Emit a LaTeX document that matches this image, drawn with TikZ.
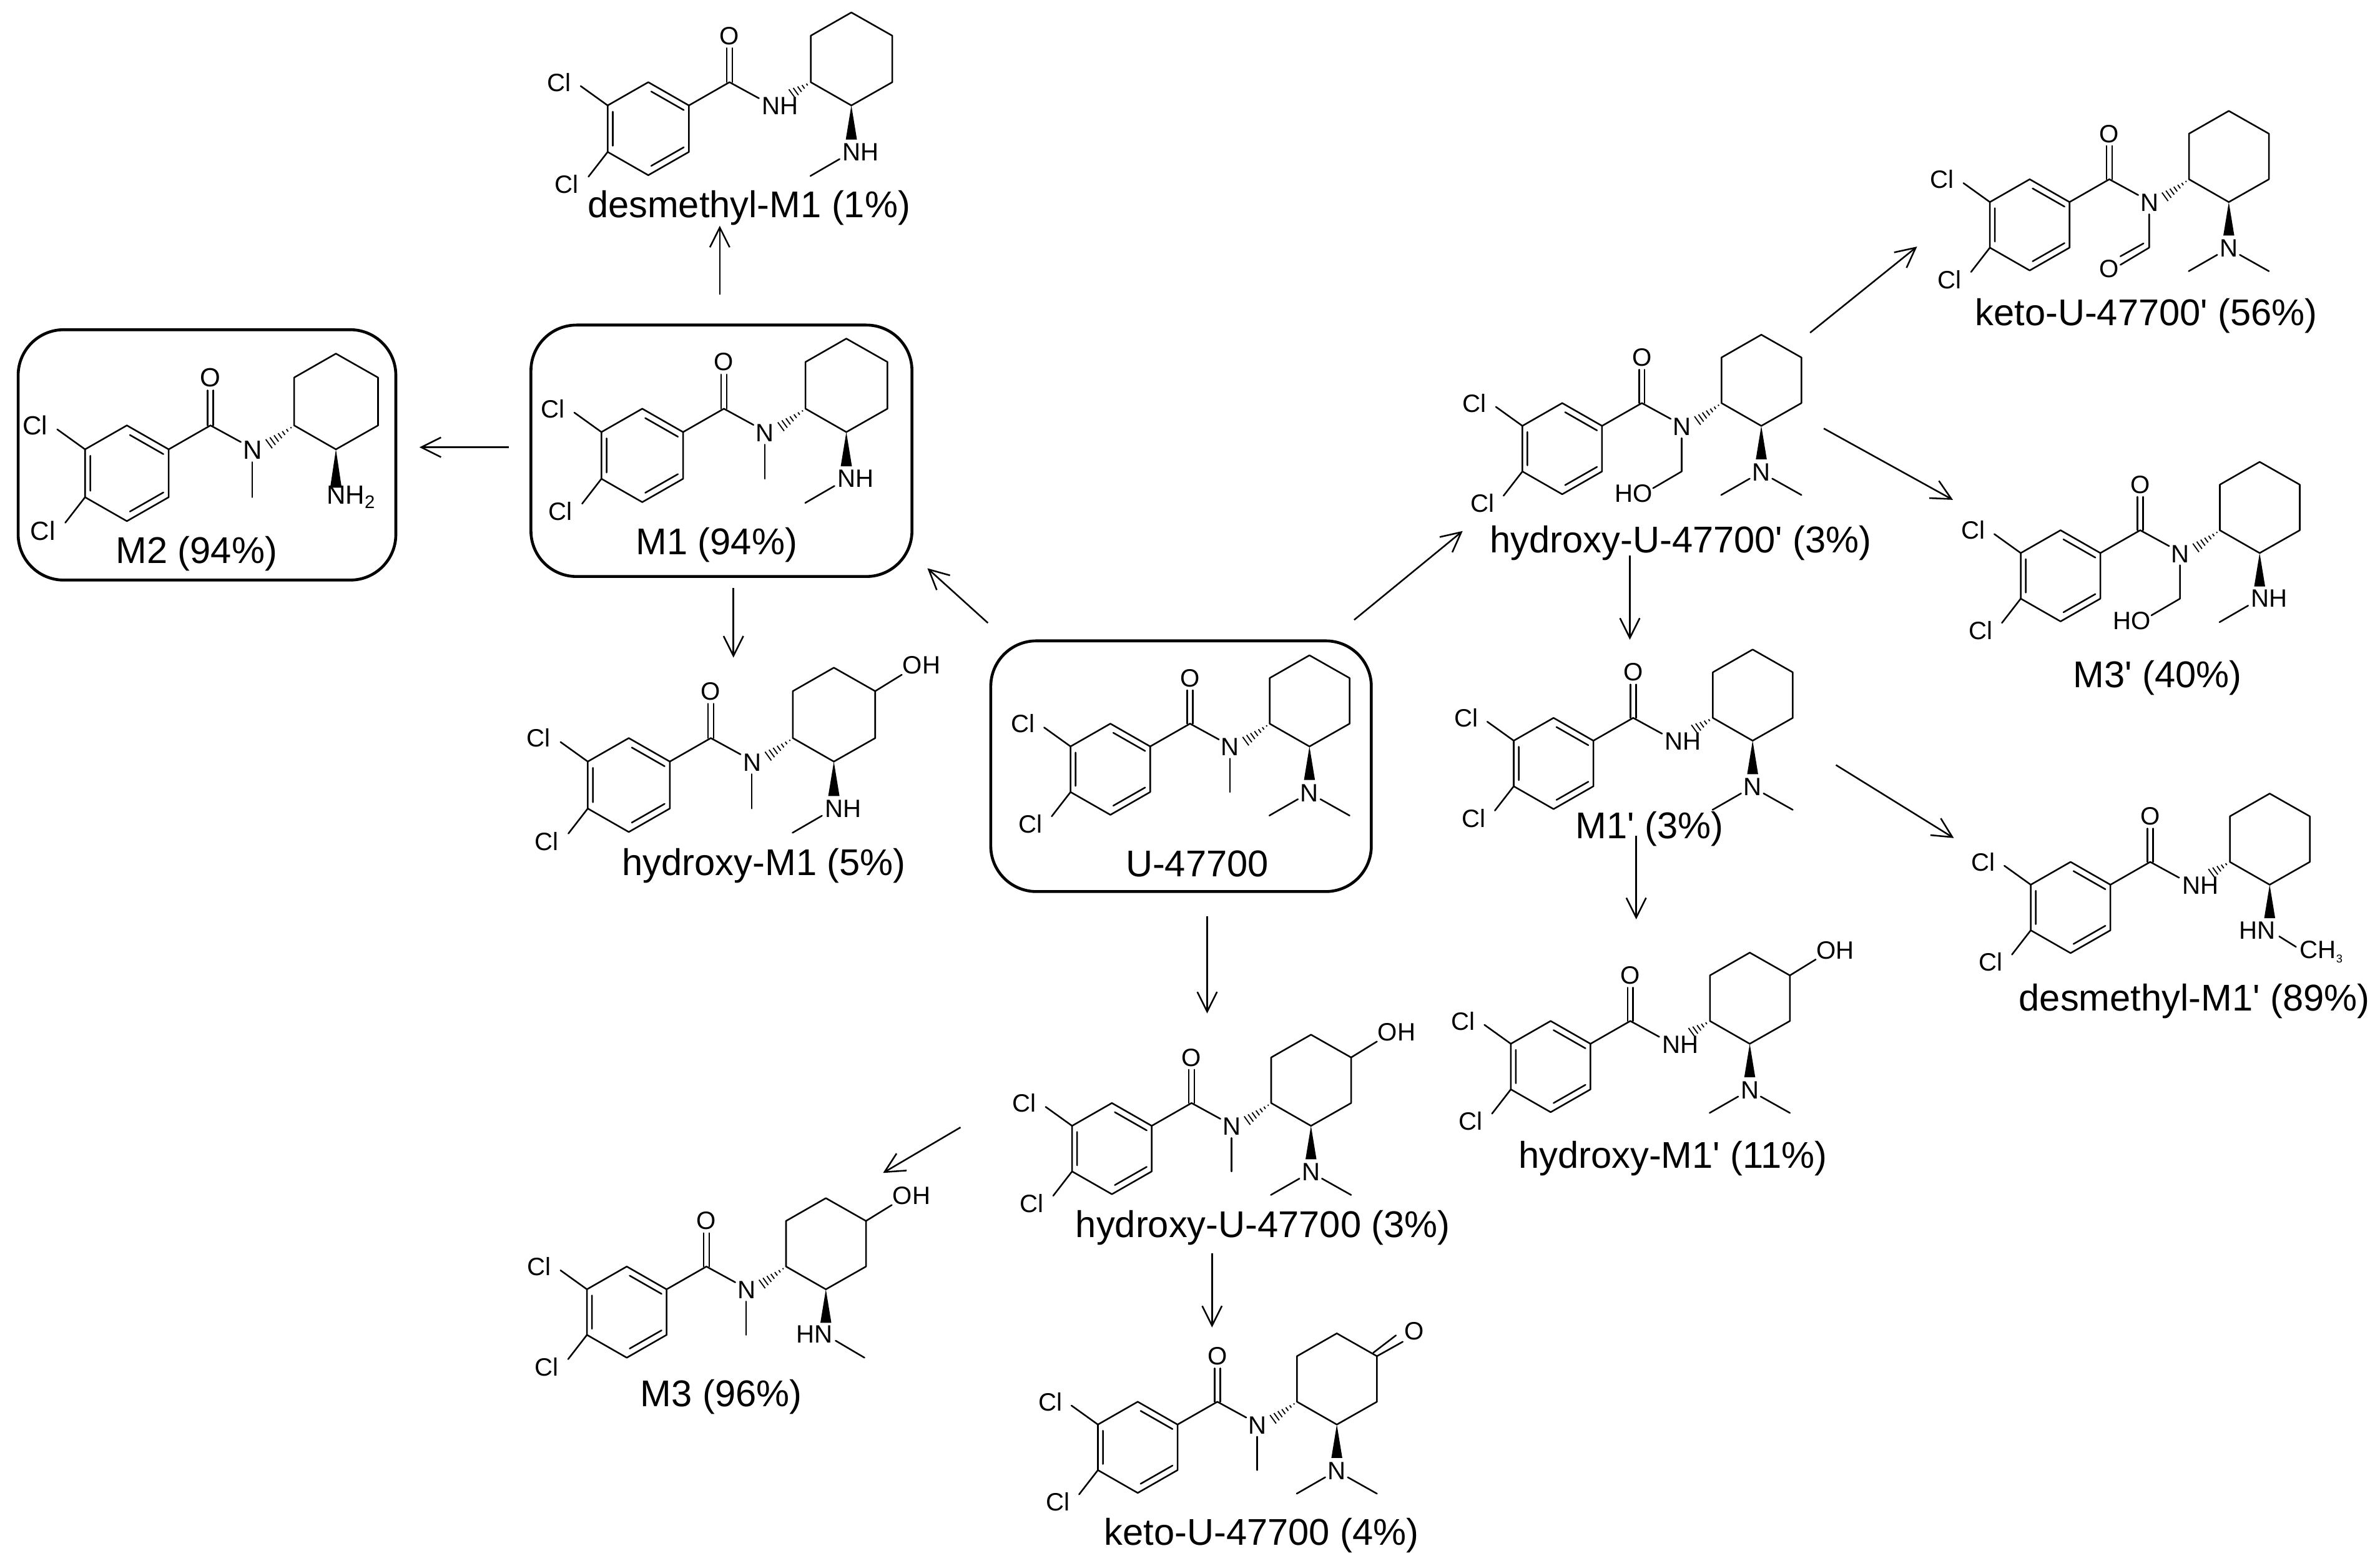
\documentclass[tikz,border=0pt]{standalone}
\usepackage{fontspec}
\newfontfamily\arialish{Liberation Sans}
\usetikzlibrary{arrows.meta}
\newcommand\asz{16.5}
\newcommand\atomfont{\arialish\fontsize{\asz}{18}\selectfont}
\newcommand\labfont{\arialish\fontsize{24.5}{28}\selectfont}
\tikzset{
  bond/.style={line width=1.05pt,line cap=round,line join=round},
  hashbond/.style={line width=0.75pt},
  atom/.style={inner sep=0pt,outer sep=0pt,font=\atomfont},
  molbox/.style={draw,line width=1.9pt,rounded corners=30pt,fill=none},
  lab/.style={inner sep=0pt,font=\labfont},
  rxn/.style={line width=1.05pt,-{Straight Barb[length=13pt,width=13pt,line width=1.05pt]}},
}
% core of every molecule: origin = amide carbon
\newcommand\core[3][1]{%
  \begin{scope}[shift={(#3)},scale=#1]
  \draw[bond] (-26.2,15)--(-26.2,45)--(-52.4,60)--(-78.6,45)--(-78.6,15)--(-52.4,0)--cycle;
  \draw[bond] (-26.2,15)--(0,0);
  \draw[bond] (-29.5,18)--(-50.5,6) (-29.5,42)--(-50.5,54) (-75.3,19)--(-75.3,41);
  \draw[bond] (-1.8,0)--(-1.8,-22) (1.8,0)--(1.8,-22);
  \draw[bond] (0,0)--(19,10.4);
  \draw[bond] (52.4,0)--(78.6,15)--(105,0)--(105,-30)--(78.6,-45)--(52.4,-30)--cycle;
  \draw[bond] (-78.6,15)--(-96,2.5) (-78.6,45)--(-91,61);
  \node[atom] (#2-cla) at (-110,0) {Cl};
  \node[atom] (#2-clb) at (-105,66) {Cl};
  \node[atom] (#2-o) at (0,-30) {O};
  }
\newcommand\hashb[1]{%
  \foreach \t in {.12,.26,.4,.54,.68,.82,.96}
   \draw[hashbond] ({52.4-#1*16.4*\t+2.1*\t},{#1*12*\t+2.9*\t})--({52.4-#1*16.4*\t-2.1*\t},{#1*12*\t-2.9*\t});}
\newcommand\hashs{%
  \foreach \t in {.2,.4,.6,.8,1}
   \draw[hashbond] ({52.4-12*\t+2.1*\t},{7.5*\t+2.9*\t})--({52.4-12*\t-2.1*\t},{7.5*\t-2.9*\t});}
\newcommand\wdg[1]{\fill (78.6,15)--(75,#1)--(82.2,#1)--cycle;}
\newcommand\nme[1]{\node[atom] (#1-n) at (26.4,15.5) {N}; \hashb{1} \draw[bond] (26.2,23)--(26.2,45);}
\newcommand\nhl[1]{\node[atom,anchor=west] (#1-n) at (21,15.5) {NH}; \hashs}
\newcommand\nch[1]{\node[atom] (#1-n) at (26.4,15.5) {N}; \hashb{1}
  \draw[bond] (26.2,23)--(26.2,45)--(7.4,56); \node[atom] (#1-ho) at (-5.5,59.5) {HO};}
\newcommand\ncho[1]{\node[atom] (#1-n) at (26.4,15.5) {N}; \hashb{1}
  \draw[bond] (26.2,23)--(26.2,45)--(7.3,56.3) (22.5,42.2)--(7.3,50.7); \node[atom] (#1-fo) at (0,59) {O};}
\newcommand\nmetwo[1]{\wdg{37}\node[atom] (#1-nb) at (78.6,45.5) {N};
  \draw[bond] (71,49.7)--(52.2,60.5) (85.8,49.7)--(105,60.5);}
\newcommand\nhmeleft[1]{\wdg{37}\node[atom,anchor=west] (#1-nb) at (73,45) {NH};
  \draw[bond] (71,49.6)--(52.2,60.5);}
\newcommand\nhmeright[1]{\wdg{37}\node[atom,anchor=east] (#1-nb) at (83,44.7) {HN};
  \draw[bond] (85,48.8)--(104,60);}
\newcommand\ohb[1]{\draw[bond] (105,-30)--(122,-40.5); \node[atom,anchor=west] (#1-oh) at (122.6,-46.5) {OH};}
\newcommand\oxo[1]{\draw[bond] (105,-30)--(122,-39.5) (102.5,-32.2)--(117.5,-43.7); \node[atom] (#1-ox) at (129.5,-46.5) {O};}
\begin{document}
\begin{tikzpicture}[x=1pt,y=-1pt]
\useasboundingbox (0,0) rectangle (1566,1030.7);
% boxes
\node[molbox,minimum width=250.4pt,minimum height=165pt] (boxU) at (777.1,504.3) {};
\node[molbox,minimum width=250.7pt,minimum height=165.5pt] (boxMa) at (474.7,296.7) {};
\node[molbox,minimum width=248.5pt,minimum height=164.8pt] (boxMb) at (136.2,299.4) {};
% molecules
\core{u}{783,476.3} \nme{u} \nmetwo{u} \end{scope}
\core[1.025]{ma}{476.3,269} \nme{ma} \nhmeleft{ma} \end{scope}
\begingroup\renewcommand\asz{17.3}
\core[1.05]{mb}{138.5,280} \nme{mb} \wdg{39} \node[atom,anchor=west] (mb-nb) at (72.8,45) {NH\raisebox{-3pt}{\arialish\fontsize{12}{12}\selectfont 2}}; \end{scope}
\endgroup
\core[1.02]{dm}{480,54.1} \nhl{dm} \nhmeleft{dm} \end{scope}
\core[1.03]{hm}{467.7,485.8} \nme{hm} \nhmeleft{hm} \ohb{hm} \end{scope}
\core{hu}{784,726} \nme{hu} \nmetwo{hu} \ohb{hu} \end{scope}
\core{mc}{464.8,833.6} \nme{mc} \nhmeright{mc} \ohb{mc} \end{scope}
\core{ku}{801,922.6} \nme{ku} \nmetwo{ku} \oxo{ku} \end{scope}
\core{hp}{1080.3,265.3} \nch{hp} \nmetwo{hp} \end{scope}
\core{ap}{1074.6,472.5} \nhl{ap} \nmetwo{ap} \end{scope}
\core{hq}{1072.7,672} \nhl{hq} \nmetwo{hq} \ohb{hq} \end{scope}
\core{cp}{1408.2,349} \nch{cp} \nhmeleft{cp} \end{scope}
\core{kp}{1387.9,118} \ncho{kp} \nmetwo{kp} \end{scope}
\core{dp}{1414.8,567.3} \nhl{dp} \wdg{37}
 \node[atom,anchor=east] (dp-nb) at (82.5,44.9) {HN};
 \draw[bond] (84.9,49)--(95.9,55.9);
 \node[atom,anchor=west] (dp-me) at (98.5,59.3) {CH\raisebox{-3pt}{\arialish\fontsize{7.5}{8}\selectfont 3}};
\end{scope}
% labels
\node[lab] (l1) at (492.8,137) {desmethyl-M1 (1\%)};
\node[lab] (l2) at (471.5,358.5) {M1 (94\%)};
\node[lab] (l3) at (129.3,364.3) {M2 (94\%)};
\node[lab] (l4) at (502.7,569.7) {hydroxy-M1 (5\%)};
\node[lab] (l5) at (787.7,568.7) {U-47700};
\node[lab] (l6) at (831,808) {hydroxy-U-47700 (3\%)};
\node[lab] (l7) at (474.5,919.3) {M3 (96\%)};
\node[lab] (l8) at (830,1010.4) {keto-U-47700 (4\%)};
\node[lab] (l9) at (1106,357.4) {hydroxy-U-47700' (3\%)};
\node[lab] (l10) at (1085.3,545.5) {M1' (3\%)};
\node[lab] (l11) at (1100.7,762.3) {hydroxy-M1' (11\%)};
\node[lab] (l12) at (1419.6,446) {M3' (40\%)};
\node[lab] (l13) at (1412.2,208) {keto-U-47700' (56\%)};
\node[lab] (l14) at (1443.8,659) {desmethyl-M1' (89\%)};
% arrow ends
\coordinate (a1s) at (650,410); \coordinate (a1e) at (610.2,374);
\coordinate (a2s) at (473.6,194); \coordinate (a2e) at (473.6,148.6);
\coordinate (a3s) at (335,294.4); \coordinate (a3e) at (276,294.4);
\coordinate (a4s) at (482.6,387); \coordinate (a4e) at (482.6,432.8);
\coordinate (a5s) at (794.3,603); \coordinate (a5e) at (794.3,667);
\coordinate (a6s) at (632,742); \coordinate (a6e) at (581,772);
\coordinate (a7s) at (797.5,825); \coordinate (a7e) at (797.5,873.7);
\coordinate (a8s) at (891,408); \coordinate (a8e) at (962.4,349.5);
\coordinate (a9s) at (1191,219); \coordinate (a9e) at (1261.4,162.3);
\coordinate (a10s) at (1200,282); \coordinate (a10e) at (1285,329);
\coordinate (a11s) at (1072.4,365.7); \coordinate (a11e) at (1072.4,421);
\coordinate (a12s) at (1076.6,550); \coordinate (a12e) at (1076.6,605.1);
\coordinate (a13s) at (1208,503.5); \coordinate (a13e) at (1285.6,551.6);
\foreach \i in {1,...,13} \draw[rxn] (a\i s)--(a\i e);
\end{tikzpicture}
\end{document}
